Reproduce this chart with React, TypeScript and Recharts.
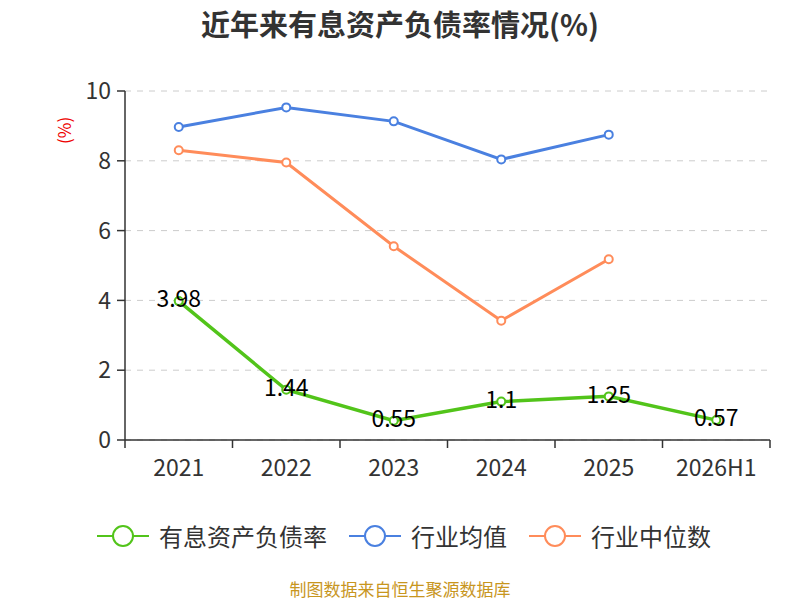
import React from "react";
import { LineChart, Line, XAxis, YAxis, CartesianGrid, Legend, LabelList } from "recharts";

const years = ["2021", "2022", "2023", "2024", "2025", "2026H1"];
const debtRatio = [3.98, 1.44, 0.55, 1.1, 1.25, 0.57];
const industryAvg = [8.97, 9.53, 9.13, 8.04, 8.75, null];
const industryMedian = [8.3, 7.95, 5.55, 3.42, 5.18, null];
const yTicks = [0, 2, 4, 6, 8, 10];

const FONT = "'Microsoft YaHei', 'Noto Sans CJK SC', sans-serif";
const GREEN = "#52c41a";
const BLUE = "#4a80e0";
const ORANGE = "#ff8c5a";

const data = years.map((year, i) => ({
  year,
  debt: debtRatio[i],
  avg: industryAvg[i],
  median: industryMedian[i],
}));

const legendItems = [
  { name: "有息资产负债率", color: GREEN },
  { name: "行业均值", color: BLUE },
  { name: "行业中位数", color: ORANGE },
];

function XTick(props: any) {
  const { x, y, payload, index } = props;
  const half = payload && payload.offset ? payload.offset : 0;
  return (
    <g>
      <line x1={x - half} x2={x - half} y1={y - 8} y2={y} stroke="#333" strokeWidth={1.5} />
      {index === years.length - 1 && (
        <line x1={x + half} x2={x + half} y1={y - 8} y2={y} stroke="#333" strokeWidth={1.5} />
      )}
      <text x={x} y={y + 28} textAnchor="middle" fill="#333" fontSize={23} fontFamily={FONT}>
        {payload.value}
      </text>
    </g>
  );
}

function LegendContent() {
  return (
    <div style={{ display: "flex", justifyContent: "center", fontFamily: FONT, fontSize: 24, color: "#333", paddingLeft: 8 }}>
      {legendItems.map((item, i) => (
        <div key={item.name} style={{ display: "flex", alignItems: "center", marginLeft: i === 0 ? 0 : 22 }}>
          <svg width={52} height={26} style={{ marginRight: 10 }}>
            <line x1={0} x2={52} y1={13} y2={13} stroke={item.color} strokeWidth={2} />
            <circle cx={26} cy={13} r={10} fill="#fff" stroke={item.color} strokeWidth={2} />
          </svg>
          <span>{item.name}</span>
        </div>
      ))}
    </div>
  );
}

export default function App() {
  return (
    <div style={{ position: "absolute", left: 0, top: 0, width: 800, height: 600, background: "#fff" }}>
      <div
        style={{
          position: "absolute",
          top: 2,
          width: 800,
          textAlign: "center",
          fontFamily: FONT,
          fontWeight: "bold",
          fontSize: 29,
          color: "#333",
        }}
      >
        近年来有息资产负债率情况(%)
      </div>
      <LineChart width={800} height={600} data={data} margin={{ top: 91, right: 30, left: 0, bottom: 100 }}>
        <CartesianGrid vertical={false} stroke="#ccc" strokeDasharray="6 6" />
        <XAxis
          dataKey="year"
          scale="band"
          height={60}
          axisLine={{ stroke: "#333", strokeWidth: 1.5 }}
          tickLine={false}
          tick={<XTick />}
          interval={0}
        />
        <YAxis
          width={125}
          domain={[0, 10]}
          ticks={yTicks}
          axisLine={{ stroke: "#333", strokeWidth: 1.5 }}
          tickLine={{ stroke: "#333", strokeWidth: 1.5 }}
          tickSize={8}
          tick={{ fill: "#333", fontSize: 23, fontFamily: FONT, dx: -4 }}
          label={{
            value: "(%)",
            angle: -90,
            position: "insideTopLeft",
            dx: 54,
            dy: 48,
            fill: "#e00",
            fontSize: 17,
            fontFamily: FONT,
          }}
        />
        <Legend
          layout="horizontal"
          verticalAlign="middle"
          align="center"
          wrapperStyle={{ top: 518, left: 0, width: 800 }}
          content={<LegendContent />}
        />
        <Line
          dataKey="avg"
          stroke={BLUE}
          strokeWidth={3}
          dot={{ r: 4, fill: "#fff", stroke: BLUE, strokeWidth: 2 }}
          isAnimationActive={false}
        />
        <Line
          dataKey="median"
          stroke={ORANGE}
          strokeWidth={3}
          dot={{ r: 4, fill: "#fff", stroke: ORANGE, strokeWidth: 2 }}
          isAnimationActive={false}
        />
        <Line
          dataKey="debt"
          stroke={GREEN}
          strokeWidth={3.5}
          dot={{ r: 4, fill: "#fff", stroke: GREEN, strokeWidth: 2 }}
          isAnimationActive={false}
        >
          <LabelList dataKey="debt" position="center" dy={-2} fill="#000" fontSize={23} fontFamily={FONT} />
        </Line>
      </LineChart>
      <div
        style={{
          position: "absolute",
          top: 579,
          width: 800,
          textAlign: "center",
          fontFamily: FONT,
          fontSize: 17,
          lineHeight: "20px",
          color: "#c8961e",
        }}
      >
        制图数据来自恒生聚源数据库
      </div>
    </div>
  );
}
